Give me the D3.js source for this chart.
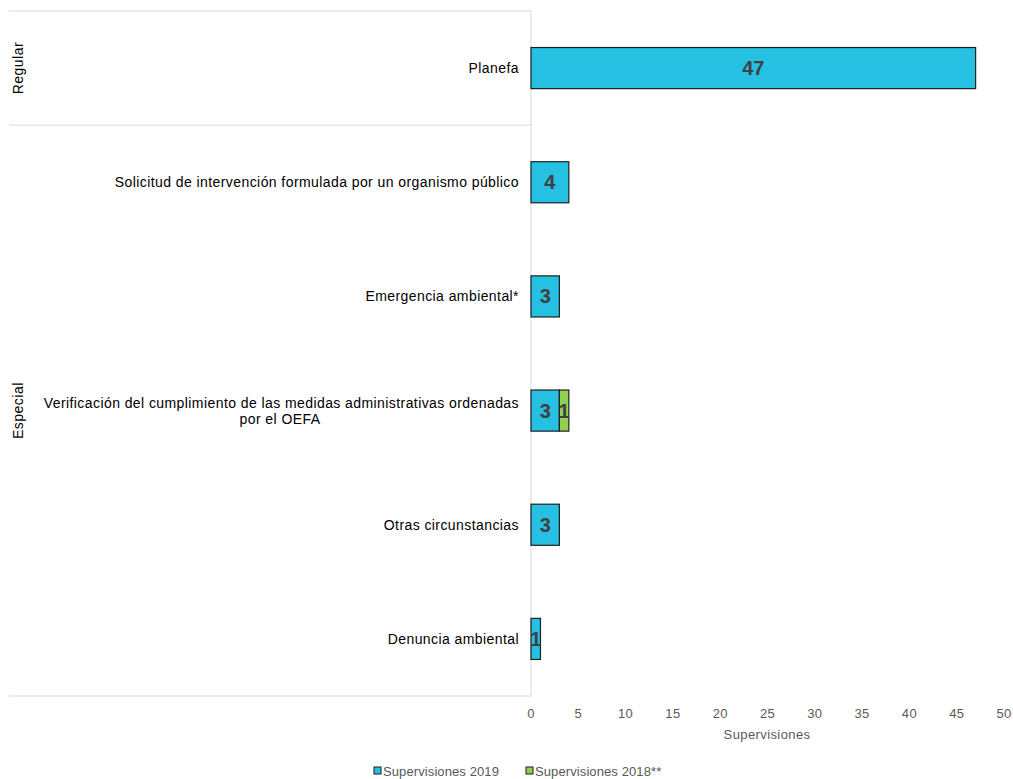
<!DOCTYPE html>
<html><head><meta charset="utf-8">
<script src="https://cdn.jsdelivr.net/npm/d3@7"></script>
<style>body{margin:0;background:#fff;} svg{font-family:"Liberation Sans",Arial,sans-serif;}</style>
</head><body><svg id="c" width="1013" height="779"></svg>
<script>
const categories = ["Planefa","Solicitud de intervención formulada por un organismo público","Emergencia ambiental*","Verificación del cumplimiento de las medidas administrativas ordenadas|por el OEFA","Otras circunstancias","Denuncia ambiental"];
const groups = ["Regular","Especial"];
const groupOf = ["Regular","Especial","Especial","Especial","Especial","Especial"];
const series = ["Supervisiones 2019","Supervisiones 2018**"];
const values2019 = [47,4,3,3,3,1];
const values2018 = [0,0,0,1,0,0];
const tickValues = [0,5,10,15,20,25,30,35,40,45,50];
const colors = ["#25C0E2","#92D050"];

const svg = d3.select("#c");
const x = d3.scaleLinear().domain([0,50]).range([531,1004]);
const y = d3.scaleBand().domain(categories).range([11,696]).paddingInner(0.64).paddingOuter(0.32);
const band = d3.scaleBand().domain(categories).range([11,696]);

const gridColor="#d9d9d9";
svg.append("line").attr("x1",531).attr("x2",531).attr("y1",11).attr("y2",696).attr("stroke",gridColor);
const boundaries=[11, band("Solicitud de intervención formulada por un organismo público"), 696];
boundaries.forEach(b=>svg.append("line").attr("x1",9).attr("x2",531).attr("y1",b).attr("y2",b).attr("stroke",gridColor));

groups.forEach(g=>{
  const cats = categories.filter((c,i)=>groupOf[i]===g);
  const y0 = band(cats[0]), y1 = band(cats[cats.length-1])+band.bandwidth();
  const cy=(y0+y1)/2;
  svg.append("text").attr("transform",`translate(23,${cy}) rotate(-90)`).attr("text-anchor","middle")
    .attr("font-size",14).attr("letter-spacing",0.5).attr("fill","#000").text(g);
});

categories.forEach(c=>{
  const lines=c.split("|");
  const cy=band(c)+band.bandwidth()/2;
  const t=svg.append("text").attr("text-anchor","end").attr("font-size",14).attr("letter-spacing",0.42).attr("fill","#000");
  lines.forEach((l,i)=>{
    const anchor = lines.length>1 ? (i===0?"end":"middle") : "end";
    t.append("tspan").attr("x", i===0?519:280).attr("text-anchor",anchor).attr("y",cy+5+(i-(lines.length-1)/2)*16).text(l);
  });
});

const stacked = categories.map((c,i)=>[values2019[i],values2018[i]]);
categories.forEach((c,i)=>{
  let acc=0;
  stacked[i].forEach((v,s)=>{
    if(v<=0) return;
    const x0=x(acc), x1=x(acc+v);
    svg.append("rect").attr("x",x0).attr("y",y(c)).attr("width",x1-x0).attr("height",y.bandwidth())
      .attr("fill",colors[s]).attr("stroke","#1f1f1f").attr("stroke-width",1.2);
    svg.append("text").attr("x",(x0+x1)/2).attr("y",y(c)+y.bandwidth()/2+7).attr("text-anchor","middle")
      .attr("font-size",20).attr("font-weight","bold").attr("fill","#404040").text(v);
    acc+=v;
  });
});

tickValues.forEach(t=>{
  svg.append("text").attr("x",x(t)).attr("y",718).attr("text-anchor","middle").attr("font-size",13).attr("letter-spacing",0.3).attr("fill","#595959").text(t);
});
svg.append("text").attr("x",767).attr("y",739).attr("text-anchor","middle").attr("font-size",13).attr("letter-spacing",0.4).attr("fill","#595959").text("Supervisiones");

const lx=[374,526];
series.forEach((s,i)=>{
  svg.append("rect").attr("x",lx[i]).attr("y",767).attr("width",7).attr("height",7).attr("fill",colors[i]).attr("stroke","#1f1f1f").attr("stroke-width",1);
  svg.append("text").attr("x",lx[i]+9).attr("y",776).attr("font-size",13).attr("letter-spacing",0.1).attr("fill","#595959").text(s);
});
</script></body></html>
